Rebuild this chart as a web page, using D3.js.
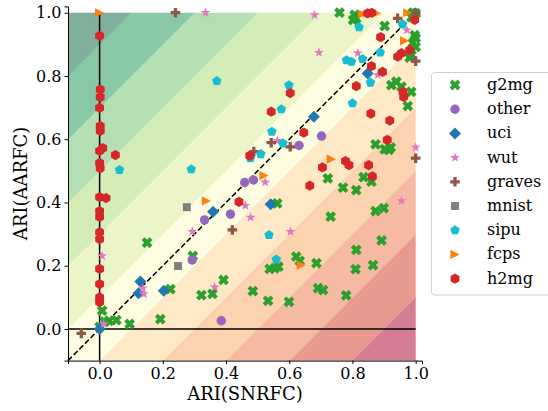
<!DOCTYPE html>
<html>
<head>
<meta charset="utf-8">
<script src="https://cdn.jsdelivr.net/npm/d3@7"></script>
<style>
  body { margin: 0; background: #fff; }
  text { font-family: "DejaVu Serif", serif; }
</style>
</head>
<body>
<script>
// Tamaño de la figura y del área de datos
const WIDTH = 548;
const HEIGHT = 411;
const PLOT = { left: 68, right: 422, top: 6.4, bottom: 360.6 };

// Datos: pares [ARI(SNRFC), ARI(AARFC)] por grupo
const g2mg = [
  [0.759, 1.0], [0.807, 0.993], [0.802, 0.977], [0.812, 0.982], [0.902, 0.958],
  [0.991, 1.0], [1.0, 0.998], [0.987, 0.986], [0.997, 0.929], [1.0, 0.92],
  [0.991, 0.904], [1.0, 0.892], [0.987, 0.866], [0.981, 0.858], [0.923, 0.771],
  [0.939, 0.782], [0.955, 0.766], [0.986, 0.75], [0.975, 0.705], [0.873, 0.584],
  [0.902, 0.568], [0.921, 0.574], [0.915, 0.566], [0.722, 0.476], [0.835, 0.48],
  [0.86, 0.466], [0.77, 0.447], [0.812, 0.439], [0.562, 0.397], [0.731, 0.355],
  [0.873, 0.373], [0.899, 0.382], [0.892, 0.28], [0.812, 0.25], [0.865, 0.202],
  [0.81, 0.189], [0.686, 0.208], [0.622, 0.229], [0.633, 0.215], [0.538, 0.19],
  [0.554, 0.192], [0.566, 0.197], [0.392, 0.155], [0.322, 0.107], [0.357, 0.111],
  [0.485, 0.12], [0.691, 0.129], [0.707, 0.123], [0.78, 0.106], [0.533, 0.089],
  [0.599, 0.086], [0.15, 0.273], [0.295, 0.231], [0.224, 0.126], [0.192, 0.031],
  [0.095, 0.016], [0.053, 0.028], [0.03, 0.026], [0.016, 0.023], [0.008, 0.058],
  [0.0, 0.007]
];
const other = [
  [0.702, 0.61], [0.631, 0.58], [0.459, 0.463], [0.487, 0.471],
  [0.332, 0.345], [0.414, 0.363], [0.293, 0.218], [0.385, 0.026]
];
const uci = [
  [0.848, 0.808], [0.678, 0.671], [0.359, 0.371], [0.541, 0.394],
  [0.129, 0.15], [0.123, 0.113], [0.203, 0.121], [0.0, 0.0]
];
const wut = [
  [0.335, 1.0], [0.68, 0.993], [0.694, 0.874], [0.817, 0.872], [0.972, 0.945],
  [0.88, 0.803], [0.562, 0.595], [0.524, 0.464], [0.461, 0.39], [0.478, 0.353],
  [1.0, 0.574], [0.955, 0.405], [0.604, 0.308], [0.364, 0.132], [0.293, 0.308],
  [0.137, 0.129], [0.14, 0.111], [0.008, 0.231], [0.013, 0.016]
];
const graves = [
  [0.24, 1.0], [0.943, 0.982], [1.0, 0.998], [1.0, 0.847], [0.543, 0.589],
  [0.603, 0.576], [0.488, 0.561], [0.42, 0.313], [1.0, 0.54], [-0.058, -0.014]
];
const mnist = [[0.276, 0.385], [0.248, 0.199]];
const sipu = [
  [0.063, 0.503], [0.29, 0.505], [0.371, 0.784], [0.599, 0.771], [0.575, 0.695],
  [0.545, 0.624], [0.58, 0.587], [0.51, 0.553], [0.477, 0.54], [0.536, 0.297],
  [0.559, 0.22], [0.821, 0.954], [0.958, 0.964], [0.781, 0.85], [0.797, 0.845],
  [0.832, 0.854], [0.888, 0.874], [0.857, 0.779], [0.80, 0.714]
];
const fcps = [
  [0.0, 1.0], [0.832, 0.996], [0.876, 0.998], [0.975, 1.0], [0.965, 0.911],
  [0.733, 0.537], [0.52, 0.485], [0.338, 0.405], [0.638, 0.202]
];
const h2mg = [
  // sobre x = 0
  [0.0, 0.927], [0.002, 0.757], [0.002, 0.733], [0.0, 0.699], [0.002, 0.642],
  [0.002, 0.626], [0.01, 0.572], [0.0, 0.563], [0.0, 0.525], [0.002, 0.508],
  [0.0, 0.417], [0.02, 0.414], [0.0, 0.373], [0.0, 0.354], [0.0, 0.306],
  [0.0, 0.284], [0.0, 0.19], [0.0, 0.142], [0.0, 0.1], [0.0, 0.085],
  // resto
  [0.05, 0.55], [0.603, 0.746], [0.543, 0.687], [0.646, 0.621], [0.475, 0.548],
  [0.441, 0.402], [0.665, 0.453], [0.705, 0.511], [0.778, 0.531], [0.789, 0.518],
  [0.851, 0.518], [0.863, 0.483], [0.91, 0.598], [0.858, 0.681], [0.918, 0.659],
  [0.812, 0.768], [0.86, 0.831], [0.895, 0.813], [0.889, 0.923], [0.96, 0.75],
  [0.962, 0.734], [0.981, 0.882], [0.955, 0.872], [0.943, 0.861], [0.997, 0.977],
  [0.848, 0.998], [0.861, 1.0]
];

// Bandas del fondo (niveles de y - x) y sus colores
const levels = [-1.1, -0.9, -0.7, -0.5, -0.3, -0.1, 0.1, 0.3, 0.5, 0.7, 0.9, 1.1];
const bandColors = [
  "#d37c94", "#e89a91", "#f6b9a1", "#fcd3ae", "#fee8c5", "#fefde1",
  "#ecf5c8", "#d4ecb6", "#b3dfb2", "#88c8a6", "#80b09b"
];
const tickValues = [0.0, 0.2, 0.4, 0.6, 0.8, 1.0];

// Formas de los marcadores
const poly = (n, rot) => ({
  draw(ctx, size) {
    const r = Math.sqrt(size);
    for (let k = 0; k < n; k++) {
      const a = rot + k * 2 * Math.PI / n;
      k === 0 ? ctx.moveTo(r * Math.cos(a), r * Math.sin(a)) : ctx.lineTo(r * Math.cos(a), r * Math.sin(a));
    }
    ctx.closePath();
  }
});
const cross = (t, rot) => ({
  draw(ctx, size) {
    const r = Math.sqrt(size), w = r * t;
    const pts = [[-w, -r], [w, -r], [w, -w], [r, -w], [r, w], [w, w], [w, r], [-w, r], [-w, w], [-r, w], [-r, -w], [-w, -w]];
    const c = Math.cos(rot), s = Math.sin(rot);
    pts.forEach(([px, py], i) => {
      const qx = px * c - py * s, qy = px * s + py * c;
      i === 0 ? ctx.moveTo(qx, qy) : ctx.lineTo(qx, qy);
    });
    ctx.closePath();
  }
});
const triRight = {
  draw(ctx, size) {
    const r = Math.sqrt(size);
    ctx.moveTo(r, 0); ctx.lineTo(-r, r); ctx.lineTo(-r, -r); ctx.closePath();
  }
};
const circle = {
  draw(ctx, size) {
    const r = Math.sqrt(size);
    ctx.moveTo(r, 0); ctx.arc(0, 0, r, 0, 2 * Math.PI);
  }
};
const star = {
  draw(ctx, size) {
    const r = Math.sqrt(size), ri = r * 0.4;
    for (let k = 0; k < 10; k++) {
      const a = -Math.PI / 2 + k * Math.PI / 5, rr = k % 2 ? ri : r;
      k === 0 ? ctx.moveTo(rr * Math.cos(a), rr * Math.sin(a)) : ctx.lineTo(rr * Math.cos(a), rr * Math.sin(a));
    }
    ctx.closePath();
  }
};

const series = [
  { name: "g2mg", data: g2mg, color: "#2ca02c", type: cross(0.36, Math.PI / 4), r: 5.6 },
  { name: "other", data: other, color: "#9467bd", type: circle, r: 4.7 },
  { name: "uci", data: uci, color: "#1f77b4", type: poly(4, 0), r: 6 },
  { name: "wut", data: wut, color: "#e377c2", type: star, r: 5.2 },
  { name: "graves", data: graves, color: "#8c564b", type: cross(0.34, 0), r: 4.8 },
  { name: "mnist", data: mnist, color: "#7f7f7f", type: poly(4, Math.PI / 4), r: 5.6 },
  { name: "sipu", data: sipu, color: "#17becf", type: poly(5, -Math.PI / 2), r: 5 },
  { name: "fcps", data: fcps, color: "#ff7f0e", type: triRight, r: 4.6 },
  { name: "h2mg", data: h2mg, color: "#d62728", type: poly(6, -Math.PI / 2), r: 5.1 }
];

const svg = d3.select("body").append("svg")
  .attr("width", WIDTH)
  .attr("height", HEIGHT);

const x = d3.scaleLinear().domain([-0.1, 1.02]).range([PLOT.left, PLOT.right]);
const y = d3.scaleLinear().domain([-0.1, 1.02]).range([PLOT.bottom, PLOT.top]);

// Recorte al cuadrado [-0.1, 1] x [-0.1, 1]
svg.append("clipPath").attr("id", "sq")
  .append("rect")
  .attr("x", x(-0.1)).attr("y", y(1))
  .attr("width", x(1) - x(-0.1)).attr("height", y(-0.1) - y(1));

const fondo = svg.append("g").attr("clip-path", "url(#sq)");
const bands = d3.range(levels.length - 1).map(i => ({ a: levels[i], b: levels[i + 1], c: bandColors[i] }));
fondo.selectAll("path").data(bands).join("path")
  .attr("fill", d => d.c)
  .attr("stroke", d => d.c)
  .attr("stroke-width", 0.5)
  .attr("d", d => {
    const x0 = -1.5, x1 = 2.5;
    return d3.line()([[x(x0), y(x0 + d.a)], [x(x1), y(x1 + d.a)], [x(x1), y(x1 + d.b)], [x(x0), y(x0 + d.b)]]) + "Z";
  });

// Líneas de referencia
svg.append("line")
  .attr("x1", x(0)).attr("x2", x(0)).attr("y1", y(-0.1)).attr("y2", y(1))
  .attr("stroke", "#000").attr("stroke-width", 1.5);
svg.append("line")
  .attr("x1", x(-0.1)).attr("x2", x(1)).attr("y1", y(0)).attr("y2", y(0))
  .attr("stroke", "#000").attr("stroke-width", 1.5);
svg.append("line")
  .attr("x1", x(-0.1)).attr("x2", x(1)).attr("y1", y(-0.1)).attr("y2", y(1))
  .attr("stroke", "#000").attr("stroke-width", 1.5)
  .attr("stroke-dasharray", "5.5,2.5");

// Ejes
const ejeX = svg.append("g")
  .attr("transform", `translate(0,${PLOT.bottom})`)
  .call(d3.axisBottom(x).tickValues(tickValues).tickFormat(d3.format(".1f")).tickSizeOuter(0).tickSize(3.5).tickPadding(3.5));
const ejeY = svg.append("g")
  .attr("transform", `translate(${PLOT.left},0)`)
  .call(d3.axisLeft(y).tickValues(tickValues).tickFormat(d3.format(".1f")).tickSizeOuter(0).tickSize(3.5).tickPadding(3));
[ejeX, ejeY].forEach(g => {
  g.selectAll("text").attr("font-family", "DejaVu Serif").attr("font-size", 16).attr("fill", "#000");
  g.selectAll("line").attr("stroke", "#000");
  g.select(".domain").attr("stroke", "#000");
});

// Marcadores
series.forEach(s => {
  svg.append("g").selectAll("path").data(s.data).join("path")
    .attr("transform", d => `translate(${x(d[0])},${y(d[1])})`)
    .attr("d", d3.symbol().type(s.type).size(s.r * s.r))
    .attr("fill", s.color);
});

// Etiquetas de los ejes
svg.append("text")
  .attr("x", (PLOT.left + PLOT.right) / 2).attr("y", 400)
  .attr("text-anchor", "middle").attr("font-size", 18)
  .text("ARI(SNRFC)");
svg.append("text")
  .attr("transform", `translate(27,${(PLOT.top + PLOT.bottom) / 2}) rotate(-90)`)
  .attr("text-anchor", "middle").attr("font-size", 18)
  .text("ARI(AARFC)");

// Leyenda
const leyenda = svg.append("g");
leyenda.append("rect")
  .attr("x", 431.5).attr("y", 72.5).attr("width", 130).attr("height", 222.5)
  .attr("rx", 3).attr("fill", "#fff").attr("fill-opacity", 0.8)
  .attr("stroke", "#d0d0d0");
series.forEach((s, i) => {
  const yy = 85 + i * 24.2;
  leyenda.append("path")
    .attr("transform", `translate(455,${yy})`)
    .attr("d", d3.symbol().type(s.type).size(s.r * s.r))
    .attr("fill", s.color);
  leyenda.append("text")
    .attr("x", 487).attr("y", yy + 5)
    .attr("font-size", 16)
    .text(s.name);
});
</script>
</body>
</html>
